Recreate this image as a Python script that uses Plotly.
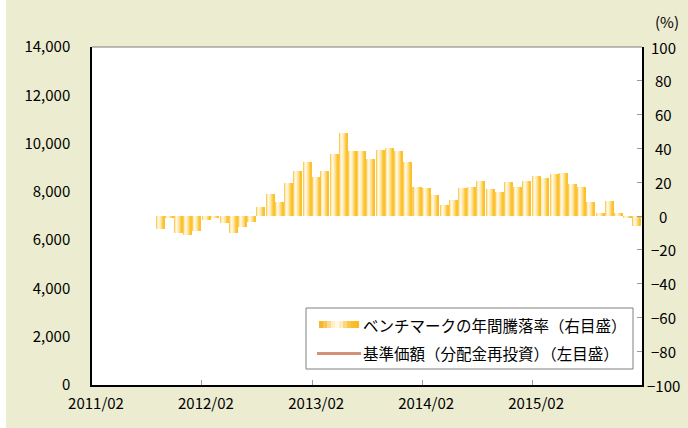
import plotly.graph_objects as go
import pandas as pd

# ---- data ----
months = [d.strftime("%Y-%m-15") for d in pd.date_range("2011-09-01", "2016-01-01", freq="MS")]
bench_pct = [-7.7, -1.2, -10.0, -11.2, -8.9, -2.4, -0.6, -4.1, -10.0, -6.5, -3.5, 5.1,
             12.8, 8.1, 19.3, 26.4, 31.7, 22.8, 26.4, 36.4, 49.4, 38.2, 38.2, 34.0,
             38.8, 40.5, 38.2, 31.7, 16.9, 16.3, 12.2, 6.3, 9.2, 16.3, 16.9, 21.0,
             15.7, 14.0, 19.9, 16.9, 21.0, 23.4, 22.2, 24.6, 25.2, 18.7, 16.9, 8.1,
             1.6, 8.7, 1.6, -1.2, -5.9]
nav_x = []          # 基準価額 has no plotted values in the reference
nav_y = []
left_ticks = [0, 2000, 4000, 6000, 8000, 10000, 12000, 14000]
right_ticks = [-100, -80, -60, -40, -20, 0, 20, 40, 60, 80, 100]
x_ticks = ["2011-02-01", "2012-02-01", "2013-02-01", "2014-02-01", "2015-02-01"]
x_labels = ["2011/02", "2012/02", "2013/02", "2014/02", "2015/02"]
bar_name = "ベンチマークの年間騰落率（右目盛）"
line_name = "基準価額（分配金再投資）（左目盛）"

# ---- style ----
W, H = 688, 428
ML, MR, MT, MB = 92, 46, 47, 43
PW, PH = W - ML - MR, H - MT - MB
BG = "#ECECD0"
FONT = "Noto Sans CJK JP"
stripe_colors = ["#FBCD5A", "#FEEBB8", "#FFF7E4", "#FFF2D0", "#FEE8AC",
                 "#FDDC86", "#FCCE56", "#FBC22C"]
DAY = 86400000
bar_w = 26.6 * DAY
sw = bar_w / len(stripe_colors)

def px(x):
    return (x - ML) / PW

def py(y):
    return (H - MB - y) / PH

fig = go.Figure()
for i, c in enumerate(stripe_colors):
    fig.add_trace(go.Bar(x=months, y=bench_pct, yaxis="y2", width=sw,
                         offset=-bar_w / 2 + i * sw,
                         marker=dict(color=c, line=dict(width=0)),
                         name=bar_name, showlegend=False, hoverinfo="skip"))
fig.add_trace(go.Scatter(x=nav_x, y=nav_y, mode="lines", name=line_name,
                         line=dict(color="#D39276", width=3), showlegend=False))

shapes = []
# white strip at left edge of the picture
shapes.append(dict(type="rect", xref="paper", yref="paper", x0=px(0), x1=px(6),
                   y0=py(H), y1=py(0), fillcolor="white", line=dict(width=0), layer="below"))
# top border of plot area
shapes.append(dict(type="line", xref="paper", yref="paper", x0=0, x1=1, y0=1, y1=1,
                   line=dict(color="#7F7F7F", width=1)))
# legend box
shapes.append(dict(type="rect", xref="paper", yref="paper", x0=px(306), x1=px(633),
                   y0=py(369), y1=py(308), fillcolor="white",
                   line=dict(color="#808080", width=1)))
# legend gradient swatch
sw_cols = ["#F6B728", "#F8C654", "#FBDA8E", "#FEEFC8", "#FFF8E6", "#FEEDC0",
           "#FCD77E", "#FAC748", "#F9BE2A", "#F9BB22"]
x0 = 319
for c in sw_cols:
    shapes.append(dict(type="rect", xref="paper", yref="paper", x0=px(x0), x1=px(x0 + 4.1),
                       y0=py(328), y1=py(321), fillcolor=c, line=dict(width=0)))
    x0 += 4
shapes.append(dict(type="line", xref="paper", yref="paper", x0=px(317), x1=px(361),
                   y0=py(353.5), y1=py(353.5), line=dict(color="#D39276", width=3)))

annotations = [
    dict(text=bar_name, xref="paper", yref="paper", x=px(361), y=py(325),
         xanchor="left", yanchor="middle", showarrow=False, font=dict(size=15.5, color="black")),
    dict(text=line_name, xref="paper", yref="paper", x=px(361), y=py(353),
         xanchor="left", yanchor="middle", showarrow=False, font=dict(size=15.5, color="black")),
    dict(text="(%)", xref="paper", yref="paper", x=px(667), y=py(22),
         xanchor="center", yanchor="middle", showarrow=False, font=dict(size=15, color="black")),
]
for v in right_ticks:
    annotations.append(dict(text=str(v).replace("-", "−"), xref="paper", yref="y2",
                            x=px(663), y=v, xanchor="center", yanchor="middle",
                            showarrow=False, font=dict(size=15, color="black")))

fig.update_layout(
    width=W, height=H,
    margin=dict(l=ML, r=MR, t=MT, b=MB, pad=0),
    paper_bgcolor=BG, plot_bgcolor="white",
    font=dict(family=FONT, size=15, color="black"),
    barmode="overlay", bargap=0,
    showlegend=False,
    shapes=shapes, annotations=annotations,
    xaxis=dict(type="date", range=["2011-02-01", "2016-02-01"],
               tickvals=x_ticks, ticktext=x_labels,
               ticks="inside", ticklen=5, tickcolor="#999999",
               showline=True, linecolor="black", linewidth=1.5,
               showgrid=False, zeroline=False, ticklabelshift=4, ticklabelstandoff=4),
    yaxis=dict(range=[0, 14000], tickvals=left_ticks, tickformat=",",
               ticks="", showline=True, linecolor="black", linewidth=1.5,
               showgrid=False, zeroline=False, ticklabelstandoff=17, fixedrange=True),
    yaxis2=dict(range=[-100, 100], overlaying="y", side="right", tickvals=right_ticks,
                showticklabels=False, ticks="inside", ticklen=5, tickcolor="#999999",
                showline=True, linecolor="black", linewidth=1.5,
                showgrid=False, zeroline=False),
)

fig.write_html("out.html", config={"displayModeBar": False},
               post_script="document.body.style.margin='0px';document.body.style.padding='0px';")
